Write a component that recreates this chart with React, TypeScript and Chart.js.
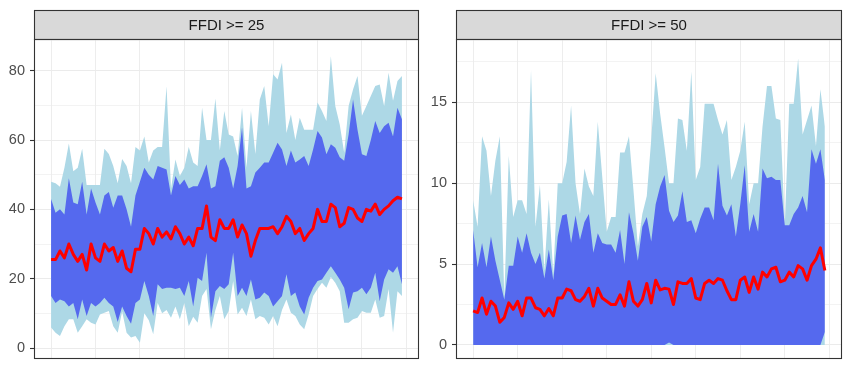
import React, { useEffect, useRef } from "react";
import { Chart, registerables } from "chart.js";
Chart.register(...registerables);

// ---------- data ----------
const years = [
  1940, 1941, 1942, 1943, 1944, 1945, 1946, 1947, 1948, 1949,
  1950, 1951, 1952, 1953, 1954, 1955, 1956, 1957, 1958, 1959,
  1960, 1961, 1962, 1963, 1964, 1965, 1966, 1967, 1968, 1969,
  1970, 1971, 1972, 1973, 1974, 1975, 1976, 1977, 1978, 1979,
  1980, 1981, 1982, 1983, 1984, 1985, 1986, 1987, 1988, 1989,
  1990, 1991, 1992, 1993, 1994, 1995, 1996, 1997, 1998, 1999,
  2000, 2001, 2002, 2003, 2004, 2005, 2006, 2007, 2008, 2009,
  2010, 2011, 2012, 2013, 2014, 2015, 2016, 2017, 2018, 2019,
];
const xGridYears = [1940, 1950, 1960, 1970, 1980, 1990, 2000, 2010, 2020];

const panelTitles = ["FFDI >= 25", "FFDI >= 50"];

// Panel A: FFDI >= 25
const medianA = [
  25.5, 25.5, 28, 26, 30, 27, 25, 27, 22.5, 30, 26, 25, 30, 28, 29, 25, 28, 23, 22, 28.5,
  28.5, 34.5, 33, 30, 34.5, 32, 33.5, 31.5, 35, 33, 30, 32, 29.5, 34.5, 34.5, 41, 32, 31, 37, 34.5,
  34.5, 37, 32, 35.5, 33, 26.5, 31, 34.5, 34.5, 34.5, 35, 33, 35, 38, 36.5, 33, 34.5, 31, 33, 34.5,
  40, 36.5, 36.5, 41.5, 40.5, 35, 36, 40.5, 40, 37.5, 36.5, 40, 39.5, 41.5, 38.5, 40, 41, 42.5, 43.5, 43,
];
const outerUpperA = [
  48, 47.5, 46.5, 52, 59, 51, 52, 57.5, 47, 47, 47, 47, 57.5, 56, 52.5, 47.5, 54.5, 52.5, 47.5, 58,
  57, 61, 53.5, 57, 58, 58, 75.5, 46, 54.4, 49.6, 52, 58, 53.5, 52.5, 69.3, 60, 60, 72, 57, 68.4,
  61.6, 61, 55.4, 69.3, 52, 68.4, 56, 71.7, 75.6, 64, 79, 77.5, 82.3, 62, 67.4, 60, 66.4, 63, 63, 63,
  70.8, 68.4, 65.5, 84.2, 69.8, 64.5, 56.3, 69.8, 74.6, 78.5, 67, 69.8, 72.7, 75.6, 76, 69.8, 79.4, 71.3, 77, 78.5,
];
const innerUpperA = [
  43, 39, 40, 38.5, 49, 42, 41.5, 48, 38.5, 46, 42, 38.5, 44, 45, 40.5, 44, 44, 40, 35, 44,
  48, 52, 50, 48.6, 52.5, 52, 51.5, 44, 49.6, 47, 48.6, 46, 46.7, 46.7, 49.6, 53, 46, 46.7, 54, 55,
  52, 46, 52.5, 63.6, 46, 46.7, 50.6, 52, 53.5, 53.5, 56.3, 59.2, 57.3, 52.5, 57, 53.5, 54.4, 55.4, 52.5, 57.3,
  62.6, 60.7, 55.9, 58.8, 57.8, 55, 54, 61.6, 71.7, 63, 55.9, 55.4, 60, 65.5, 62, 64, 65, 61, 69.3, 66,
];
const innerLowerA = [
  15, 13, 14, 13.5, 12, 13, 8.3, 14, 9.2, 13, 12, 13, 14.5, 13, 12, 7.5, 12, 9.2, 7, 13,
  14, 19.3, 15, 9.2, 18.4, 17, 17.4, 17.4, 17, 17.4, 15, 19.3, 12, 20.3, 19.3, 27.5, 8.75, 16.4, 17.9, 17,
  18.4, 27.5, 15, 17.4, 15, 19.8, 14, 14.5, 16, 15, 12, 13.5, 15, 21.3, 15, 16, 12, 9.7, 14.5, 17.4,
  19.3, 19.8, 21.7, 23.6, 21.7, 19.8, 17.4, 11.2, 16, 16.4, 17.4, 15.5, 17.4, 21.7, 13.5, 19.8, 22.7, 21.7, 23.6, 18.4,
];
const outerLowerA = [
  5.9, 4.4, 3.5, 6.3, 8.3, 8.3, 4.4, 6.3, 8.3, 7.3, 6.8, 9.7, 10.2, 10.7, 6.3, 4.4, 10.5, 4.4, 3, 3.5,
  1.5, 10, 8, 4, 13, 10, 11, 8.75, 12, 8.3, 13, 6.3, 9, 7.3, 15, 17, 5.4, 11, 15, 8.3,
  10.7, 19.3, 9.7, 11.6, 9.2, 14, 8.3, 9.2, 8.75, 6.8, 9.2, 6.3, 11, 14, 10.2, 9.2, 6.8, 5.4, 9.7, 15,
  17, 18.8, 17.4, 20.5, 18.8, 16.4, 7.3, 7.3, 8.3, 8.75, 10.7, 10.2, 10.2, 14, 8.75, 9.2, 17, 4.4, 16.4, 15,
];

// Panel B: FFDI >= 50
const medianB = [
  2.1, 2.0, 2.9, 1.9, 2.7, 2.4, 1.4, 1.7, 2.6, 2.2, 2.7, 1.8, 2.9, 2.9, 2.3, 2.2, 1.8, 2.25, 1.8, 2.9,
  2.9, 3.45, 3.35, 2.8, 2.7, 3.0, 3.5, 2.4, 3.5, 2.9, 2.7, 2.5, 2.5, 3.1, 2.4, 3.9, 2.7, 2.4, 2.8, 3.8,
  2.6, 4.0, 3.4, 3.5, 3.45, 2.5, 3.9, 3.8, 3.8, 4.1, 2.9, 2.8, 3.8, 4.0, 3.8, 4.1, 4.0, 3.35, 2.8, 2.8,
  4.0, 4.2, 3.25, 4.2, 3.45, 4.5, 4.2, 4.7, 4.8, 3.9, 4.0, 4.5, 4.2, 4.9, 4.7, 4.0, 4.9, 5.3, 6.0, 4.6,
];
const outerUpperB = [
  8.95, 7.3, 12.9, 12.0, 9.2, 11.4, 12.9, 2.9, 11.7, 7.9, 8.95, 8.95, 8.1, 17, 7.3, 9.9, 4.6, 9, 4.4, 10,
  10.0, 11.3, 14.8, 10, 8.1, 10.9, 9.8, 9.2, 13.8, 10.4, 7.0, 7.9, 7.9, 11.9, 11.9, 12.9, 9.6, 6.1, 8.1, 9.2,
  12.7, 16.8, 14.3, 12.2, 10, 10, 14, 13.9, 12, 16.9, 10.2, 11, 14.9, 14.9, 14.9, 13.9, 13, 13.9, 10.2, 11,
  12, 13.8, 8.7, 10, 10, 13.5, 16, 16, 14, 13.9, 7.4, 14.9, 14.9, 17.7, 13, 13.9, 14.8, 12.3, 15.8, 13.5,
];
const innerUpperB = [
  7.1, 4.8, 6.3, 4.8, 6.7, 5.2, 4.0, 2.8, 4.9, 4.9, 6.7, 5.7, 6.9, 5.7, 5.0, 5.7, 4.1, 5.9, 4.0, 6.7,
  8.0, 8.1, 6.3, 8.0, 6.5, 7.6, 8.1, 5.7, 6.9, 6.3, 6.2, 6.2, 5.7, 7.1, 5.0, 8.2, 6.9, 5.2, 7.3, 7.9,
  6.4, 8.7, 9.8, 10.5, 8.3, 7.6, 8.0, 9.5, 7.6, 7.7, 6.9, 7.8, 8.5, 8.5, 7.7, 11.2, 8.6, 8.0, 8.7, 6.7,
  8.7, 11.1, 7.0, 8.1, 7.0, 10.9, 10.3, 10.4, 10.2, 10.2, 7.4, 7.4, 8.1, 8.5, 9.2, 8.2, 12.1, 11.2, 12.1, 10.2,
];
const innerLowerB = [
  0, 0, 0, 0, 0, 0, 0, 0, 0, 0, 0, 0, 0, 0, 0, 0, 0, 0, 0, 0,
  0, 0, 0, 0, 0, 0, 0, 0, 0, 0, 0, 0, 0, 0, 0, 0, 0, 0, 0, 0,
  0, 0, 0, 0, 0.15, 0, 0, 0, 0, 0, 0, 0, 0, 0, 0, 0, 0, 0, 0, 0,
  0, 0, 0, 0, 0, 0, 0, 0, 0, 0, 0, 0, 0, 0, 0, 0, 0, 0, 0, 0.8,
];
const outerLowerB = [
  0, 0, 0, 0, 0, 0, 0, 0, 0, 0, 0, 0, 0, 0, 0, 0, 0, 0, 0, 0,
  0, 0, 0, 0, 0, 0, 0, 0, 0, 0, 0, 0, 0, 0, 0, 0, 0, 0, 0, 0,
  0, 0, 0, 0, 0, 0, 0, 0, 0, 0, 0, 0, 0, 0, 0, 0, 0, 0, 0, 0,
  0, 0, 0, 0, 0, 0, 0, 0, 0, 0, 0, 0, 0, 0, 0, 0, 0, 0, 0, 0,
];

const yMajorA = [0, 20, 40, 60, 80];
const yMinorA = [10, 30, 50, 70];
const yMajorB = [0, 5, 10, 15];
const yMinorB = [2.5, 7.5, 12.5, 17.5];

// ---------- styling ----------
const RED = "#FF0000";
const BLUE = "#5569EE";
const LIGHT = "#ADD8E6";
const GRID = "#EBEBEB";
const FONT = '"Liberation Sans", Arial, Helvetica, sans-serif';

const panelDecor = {
  id: "panelDecor",
  beforeDraw(chart: any, _args: any, opts: any) {
    const { ctx, chartArea: ca } = chart;
    ctx.save();
    ctx.fillStyle = "#FFFFFF";
    ctx.fillRect(ca.left, ca.top, ca.right - ca.left, ca.bottom - ca.top);
    const top = opts.stripTop;
    ctx.fillStyle = "#D9D9D9";
    ctx.fillRect(ca.left, top, ca.right - ca.left, ca.top - top);
    ctx.strokeStyle = "#333333";
    ctx.lineWidth = 1.1;
    ctx.strokeRect(ca.left + 0.5, top + 0.5, ca.right - ca.left - 1, ca.top - top);
    ctx.fillStyle = "#1A1A1A";
    ctx.font = `15px ${FONT}`;
    ctx.textAlign = "center";
    ctx.textBaseline = "middle";
    ctx.fillText(opts.title, (ca.left + ca.right) / 2, (top + ca.top) / 2 + 1);
    ctx.restore();
  },
  afterDraw(chart: any) {
    const { ctx, chartArea: ca } = chart;
    ctx.save();
    ctx.strokeStyle = "#333333";
    ctx.lineWidth = 1.1;
    ctx.strokeRect(ca.left + 0.5, ca.top + 0.5, ca.right - ca.left - 1, ca.bottom - ca.top - 1);
    ctx.restore();
  },
};

type PanelCfg = {
  title: string;
  median: number[];
  innerUpper: number[];
  innerLower: number[];
  outerUpper: number[];
  outerLower: number[];
  yMin: number;
  yMax: number;
  yMajor: number[];
  yMinor: number[];
  axisWidth: number;
  padRight: number;
};

function pts(arr: number[]) {
  return years.map((x, i) => ({ x, y: arr[i] }));
}

function makeChart(canvas: HTMLCanvasElement, c: PanelCfg) {
  const band = (data: number[], fill: any, color?: string) => ({
    data: pts(data),
    borderWidth: 0,
    borderColor: "rgba(0,0,0,0)",
    backgroundColor: color || "rgba(0,0,0,0)",
    pointRadius: 0,
    tension: 0,
    fill,
  });
  const allY = [...c.yMajor, ...c.yMinor].sort((a, b) => a - b);
  return new Chart(canvas, {
    type: "line",
    data: {
      datasets: [
        {
          data: pts(c.median),
          borderColor: RED,
          borderWidth: 3,
          pointRadius: 0,
          tension: 0,
          fill: false,
          borderJoinStyle: "round",
          borderCapStyle: "butt",
        } as any,
        band(c.innerUpper, 2, BLUE),
        band(c.innerLower, false),
        band(c.outerUpper, 4, LIGHT),
        band(c.outerLower, false),
      ],
    },
    options: {
      animation: false,
      responsive: false,
      maintainAspectRatio: false,
      devicePixelRatio: 1,
      events: [],
      layout: { padding: { left: 0, right: c.padRight, top: 39, bottom: 7 } },
      plugins: {
        legend: { display: false },
        tooltip: { enabled: false },
        panelDecor: { title: c.title, stripTop: 10 },
      } as any,
      scales: {
        x: {
          type: "linear",
          min: years[0] - 3.85,
          max: years[years.length - 1] + 3.85,
          border: { display: false },
          ticks: { display: false },
          grid: { color: GRID, lineWidth: 0.9, drawTicks: false },
          afterBuildTicks: (s: any) => {
            s.ticks = xGridYears.map((v) => ({ value: v }));
          },
          afterFit: (s: any) => {
            s.height = 0;
            s.paddingLeft = 0;
            s.paddingRight = 0;
            s.paddingTop = 0;
            s.paddingBottom = 0;
          },
        },
        y: {
          type: "linear",
          min: c.yMin,
          max: c.yMax,
          border: { display: false },
          ticks: {
            color: "#4D4D4D",
            font: { family: FONT, size: 14.5 },
            padding: 5,
            autoSkip: false,
            callback: (v: any) => (c.yMajor.includes(Number(v)) ? String(v) : ""),
          },
          grid: {
            color: GRID,
            lineWidth: (ctx: any) =>
              ctx.tick && c.yMajor.includes(ctx.tick.value) ? 1.0 : 0.6,
            tickColor: (ctx: any) =>
              ctx.tick && c.yMajor.includes(ctx.tick.value) ? "#333333" : "rgba(0,0,0,0)",
            tickLength: 4,
            tickWidth: 1.1,
            drawTicks: true,
          },
          afterBuildTicks: (s: any) => {
            s.ticks = allY.map((v) => ({ value: v }));
          },
          afterFit: (s: any) => {
            s.width = c.axisWidth;
            s.paddingLeft = 0;
            s.paddingRight = 0;
            s.paddingTop = 0;
            s.paddingBottom = 0;
          },
        },
      },
    } as any,
    plugins: [panelDecor as any],
  });
}

export default function App() {
  const leftRef = useRef<HTMLCanvasElement>(null);
  const rightRef = useRef<HTMLCanvasElement>(null);

  useEffect(() => {
    document.body.style.margin = "0";
    const a = makeChart(leftRef.current!, {
      title: panelTitles[0],
      median: medianA,
      innerUpper: innerUpperA,
      innerLower: innerLowerA,
      outerUpper: outerUpperA,
      outerLower: outerLowerA,
      yMin: -3.17,
      yMax: 89.15,
      yMajor: yMajorA,
      yMinor: yMinorA,
      axisWidth: 34,
      padRight: 6,
    });
    const b = makeChart(rightRef.current!, {
      title: panelTitles[1],
      median: medianB,
      innerUpper: innerUpperB,
      innerLower: innerLowerB,
      outerUpper: outerUpperB,
      outerLower: outerLowerB,
      yMin: -0.87,
      yMax: 18.91,
      yMajor: yMajorB,
      yMinor: yMinorB,
      axisWidth: 31,
      padRight: 8,
    });
    return () => {
      a.destroy();
      b.destroy();
    };
  }, []);

  return (
    <div
      style={{
        position: "absolute",
        left: 0,
        top: 0,
        width: 850,
        height: 366,
        background: "#FFFFFF",
        overflow: "hidden",
      }}
    >
      <canvas
        ref={leftRef}
        width={425}
        height={366}
        style={{ position: "absolute", left: 0, top: 0, width: 425, height: 366 }}
      />
      <canvas
        ref={rightRef}
        width={425}
        height={366}
        style={{ position: "absolute", left: 425, top: 0, width: 425, height: 366 }}
      />
    </div>
  );
}
